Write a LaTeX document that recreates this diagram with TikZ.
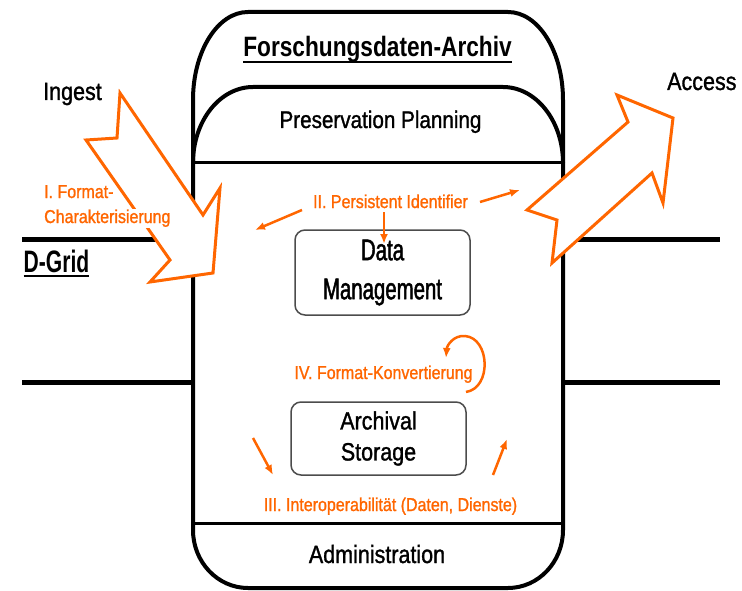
\documentclass[tikz,border=0pt]{standalone}
\usepackage{fontspec}
\setmainfont{Liberation Sans}[FakeStretch=0.86,FakeBold=1.2]
\newfontfamily\narrowfont{Liberation Sans}[FakeStretch=0.68,FakeBold=1.5]
\newfontfamily\titlefont{Liberation Sans}[FakeStretch=0.81]
\usetikzlibrary{arrows.meta,positioning}
\definecolor{oaisorange}{RGB}{255,102,0}

\begin{document}
\begin{tikzpicture}[x=1pt,y=-1pt]
    % Define styles
    \tikzstyle{grid line}=[line width=5pt]
    \tikzstyle{archive line}=[line width=4pt]
    \tikzstyle{big arrow}=[draw=oaisorange,line width=3pt,fill=white,line join=miter]
    \tikzstyle{flow}=[oaisorange,line width=2.5pt,-{Latex[length=10pt,width=8pt]}]
    \tikzstyle{module}=[draw=black!70,line width=1.5pt,rounded corners=10pt,minimum width=175pt,inner sep=0pt,align=center]
    \tikzstyle{task label}=[text=oaisorange,font=\fontsize{18.6}{22}\selectfont,fill=white,inner sep=1pt]
    \tikzstyle{caption}=[font=\fontsize{25}{30}\selectfont,inner sep=0pt]

    \useasboundingbox (0,0) rectangle (742,591);

    % D-Grid lines
    \foreach \y in {239,382} {
        \draw[grid line] (22,\y) -- (193,\y);
        \draw[grid line] (563,\y) -- (720,\y);
    }

    % Archive outline
    \draw[archive line] (193,530) -- (193,100)
        arc[start angle=180,end angle=90,x radius=55pt,y radius=88pt] -- (508,12)
        arc[start angle=90,end angle=0,x radius=55pt,y radius=88pt] -- (563,530)
        arc[start angle=0,end angle=-90,x radius=55pt,y radius=58pt] -- (248,588)
        arc[start angle=-90,end angle=-180,x radius=55pt,y radius=58pt] -- cycle;

    % Preservation Planning arch and separators
    \draw[archive line] (193,163)
        arc[start angle=180,end angle=90,x radius=60pt,y radius=76pt] -- (503,87)
        arc[start angle=90,end angle=0,x radius=60pt,y radius=76pt];
    \draw[line width=3pt] (193,163) -- (563,163);
    \draw[line width=3pt] (193,523) -- (563,523);

    % Ingest and Access arrows
    \draw[big arrow] (120,93) -- (117,138) -- (86,140) -- (170,260) -- (150,282)
        -- (213,273) -- (220,188) -- (203,215) -- cycle;
    \draw[big arrow] (527,210) -- (557,220) -- (552,263) -- (652,173) -- (663,203)
        -- (673,118) -- (617,95) -- (628,122) -- cycle;

    % Titles
    \node[font=\titlefont\bfseries\fontsize{28}{32}\selectfont,inner sep=0pt,anchor=base] (archive) at (377.5,57) {Forschungsdaten-Archiv};
    \draw[line width=2pt] ([yshift=-5pt]archive.base west) -- ([yshift=-5pt]archive.base east);
    \node[caption,font=\fontsize{24}{28}\selectfont,anchor=base] (planning) at (380.5,128) {Preservation Planning};
    \node[caption,anchor=base] (admin) at (377,563) {Administration};
    \node[caption,anchor=base west] (ingest) at (43,100) {Ingest};
    \node[caption,anchor=base west] (access) at (667,90) {Access};
    \node[font=\titlefont\bfseries\fontsize{31}{36}\selectfont,inner sep=0pt,anchor=base,xscale=0.84,transform shape] (dgrid) at (56.5,272) {D-Grid};
    \draw[line width=2.5pt] ([yshift=-4pt]dgrid.base west) -- ([yshift=-4pt]dgrid.base east);

    % Modules
    \node[module,minimum height=85pt,font=\narrowfont\fontsize{30}{39}\selectfont] (datamgmt) at (382.5,272.5) {Data\\Management};
    \node[module,minimum height=73pt,font=\fontsize{25}{31}\selectfont] (storage) at (378.5,438.5) {Archival\\Storage};

    % Tasks
    \node[task label,anchor=base west] (format) at (43,198) {I. Format-};
    \node[task label,anchor=base west] (charact) at (43,223) {Charakterisierung};
    \node[task label,anchor=base] (pid) at (390.5,208) {II. Persistent Identifier};
    \node[task label,anchor=base] (convert) at (383.5,379) {IV. Format-Konvertierung};
    \node[task label,anchor=base] (interop) at (390.5,511) {III. Interoperabilität (Daten, Dienste)};

    % Arrow ends
    \coordinate (pidW) at (302,210);
    \coordinate (pidWend) at (255,230);
    \coordinate (pidE) at (480,202);
    \coordinate (pidEend) at (520,190);
    \coordinate (pidS) at (384,212);
    \coordinate (pidSend) at (384,244);
    \coordinate (loopA) at (466,392);
    \coordinate (loopB) at (446,358);
    \coordinate (interopL) at (253,438);
    \coordinate (interopLend) at (273,475);
    \coordinate (interopR) at (493,475);
    \coordinate (interopRend) at (507,439);

    \draw[flow] (pidW) -- (pidWend);
    \draw[flow] (pidE) -- (pidEend);
    \draw[flow] (pidS) -- (pidSend);
    \draw[flow] (loopA) .. controls (492,388) and (490,338) .. (465,336)
        .. controls (454,335) and (447,345) .. (loopB);
    \draw[flow] (interopL) -- (interopLend);
    \draw[flow] (interopR) -- (interopRend);
\end{tikzpicture}
\end{document}
